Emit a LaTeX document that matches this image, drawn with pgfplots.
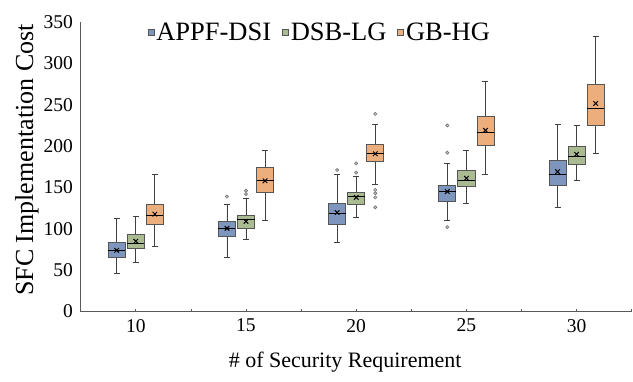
\documentclass[border=0pt]{standalone}
\usepackage{fontspec}
\setmainfont{Liberation Serif}
\usepackage{pgfplots}
\pgfplotsset{compat=1.18}
\usepgfplotslibrary{statistics}
\definecolor{bblue}{RGB}{126,149,189}
\definecolor{bgreen}{RGB}{170,187,146}
\definecolor{borange}{RGB}{237,174,126}
\definecolor{edge}{RGB}{85,85,85}
\begin{document}
\begin{tikzpicture}
\useasboundingbox (-80.7pt,-69.5pt) rectangle (552.3pt,311.5pt);
\begin{axis}[
  scale only axis,
  width=551pt, height=289.5pt,
  xmin=0.5, xmax=5.5, ymin=0, ymax=350,
  axis lines=left,
  axis line style={draw=black!65, line width=0.9pt, -},
  xtick={1,2,3,4,5},
  xticklabels={10,15,20,25,30},
  minor xtick={1.5,2.5,3.5,4.5,5.5},
  x tick style={draw=black!65, line width=0.6pt},
  xtick align=inside,
  major tick length=2.5pt, minor tick length=2.5pt,
  ytick={0,50,...,350},
  y tick style={draw=none},
  /pgf/number format/assume math mode=true,
  tick label style={font=\fontsize{19.5}{22}\selectfont},
  yticklabel style={xshift=-3pt},
  xticklabel style={yshift=-4pt},
  xlabel={\# of Security Requirement},
  ylabel={SFC Implementation Cost},
  xlabel style={font=\fontsize{22}{26}\selectfont, at={(axis description cs:0.48,-0.1744)}, anchor=center},
  ylabel style={font=\fontsize{26}{30}\selectfont, at={(axis description cs:-0.0975,0.523)}, anchor=center, rotate=0},
  legend style={draw=none, fill=none, at={(axis description cs:0.434,0.965)}, anchor=center,
    font=\fontsize{26.5}{29}\selectfont, legend columns=-1,
    /tikz/every even column/.append style={column sep=9pt}},
  legend image code/.code={\draw[#1, line width=0.6pt] (0pt,-3pt) rectangle (6pt,3pt);},
  boxplot/draw direction=y,
  boxplot/box extend=0.155,
  boxplot/whisker extend=0.055,
  boxplot/every box/.style={draw=edge, line width=0.8pt},
  boxplot/every median/.style={draw=black, line width=0.9pt},
  boxplot/every whisker/.style={draw=black!75, line width=0.8pt},
]
\addlegendimage{fill=bblue, draw=edge}
\addlegendentry{APPF-DSI}
\addlegendimage{fill=bgreen, draw=edge}
\addlegendentry{DSB-LG}
\addlegendimage{fill=borange, draw=edge}
\addlegendentry{GB-HG}

\pgfplotsset{
  bx/.style={forget plot, fill=#1, draw=edge, mark=none},
  outl/.style={forget plot, only marks, mark=*, mark size=1.6pt, mark options={draw=black!55, fill=black!20, line width=0.6pt}},
  avg/.style={forget plot, only marks, mark=x, mark size=3.2pt, mark options={draw=black, line width=1pt}},
}

% 10
\addplot[bx=bblue, boxplot prepared={draw position=0.827, lower whisker=46, lower quartile=65, median=74, upper quartile=84, upper whisker=112}] coordinates {};
\addplot[bx=bgreen, boxplot prepared={draw position=1, lower whisker=59, lower quartile=76.5, median=82.5, upper quartile=93.5, upper whisker=115}] coordinates {};
\addplot[bx=borange, boxplot prepared={draw position=1.173, lower whisker=79, lower quartile=105, median=116.5, upper quartile=130, upper whisker=166}] coordinates {};
% 15
\addplot[bx=bblue, boxplot prepared={draw position=1.827, lower whisker=65, lower quartile=90.5, median=100, upper quartile=109, upper whisker=130}] coordinates {};
\addplot[bx=bgreen, boxplot prepared={draw position=2, lower whisker=86.6, lower quartile=100.7, median=111, upper quartile=116, upper whisker=137}] coordinates {};
\addplot[bx=borange, boxplot prepared={draw position=2.173, lower whisker=110, lower quartile=144, median=159, upper quartile=174, upper whisker=195}] coordinates {};
% 20
\addplot[bx=bblue, boxplot prepared={draw position=2.827, lower whisker=84, lower quartile=105, median=118, upper quartile=131, upper whisker=166}] coordinates {};
\addplot[bx=bgreen, boxplot prepared={draw position=3, lower whisker=114, lower quartile=129, median=139, upper quartile=144, upper whisker=163}] coordinates {};
\addplot[bx=borange, boxplot prepared={draw position=3.173, lower whisker=154, lower quartile=182, median=191.5, upper quartile=202, upper whisker=226}] coordinates {};
% 25
\addplot[bx=bblue, boxplot prepared={draw position=3.827, lower whisker=110, lower quartile=133.4, median=144.7, upper quartile=152, upper whisker=179.4}] coordinates {};
\addplot[bx=bgreen, boxplot prepared={draw position=4, lower whisker=131, lower quartile=150.7, median=159, upper quartile=170, upper whisker=195}] coordinates {};
\addplot[bx=borange, boxplot prepared={draw position=4.173, lower whisker=166, lower quartile=200.7, median=217, upper quartile=236, upper whisker=278.7}] coordinates {};
% 30
\addplot[bx=bblue, boxplot prepared={draw position=4.827, lower whisker=126, lower quartile=153, median=166, upper quartile=183, upper whisker=225.8}] coordinates {};
\addplot[bx=bgreen, boxplot prepared={draw position=5, lower whisker=158, lower quartile=177.7, median=187.5, upper quartile=200, upper whisker=225}] coordinates {};
\addplot[bx=borange, boxplot prepared={draw position=5.173, lower whisker=191.5, lower quartile=224.6, median=246, upper quartile=275, upper whisker=332.7}] coordinates {};

% averages
\addplot[avg] coordinates {(0.827,74) (1,85) (1.173,117.7)
  (1.827,100.5) (2,109) (2.173,158)
  (2.827,119.6) (3,138) (3.173,190.7)
  (3.827,145) (4,161) (4.173,219)
  (4.827,169) (5,190) (5.173,251.6)};
% outliers
\addplot[outl] coordinates {(1.827,139) (2,142) (2,146) (2.827,171) (3,168) (3,179)
  (3.173,239) (3.173,147) (3.173,143) (3.173,138) (3.173,126)
  (3.827,225) (3.827,192) (3.827,102)};
\end{axis}
\end{tikzpicture}
\end{document}
